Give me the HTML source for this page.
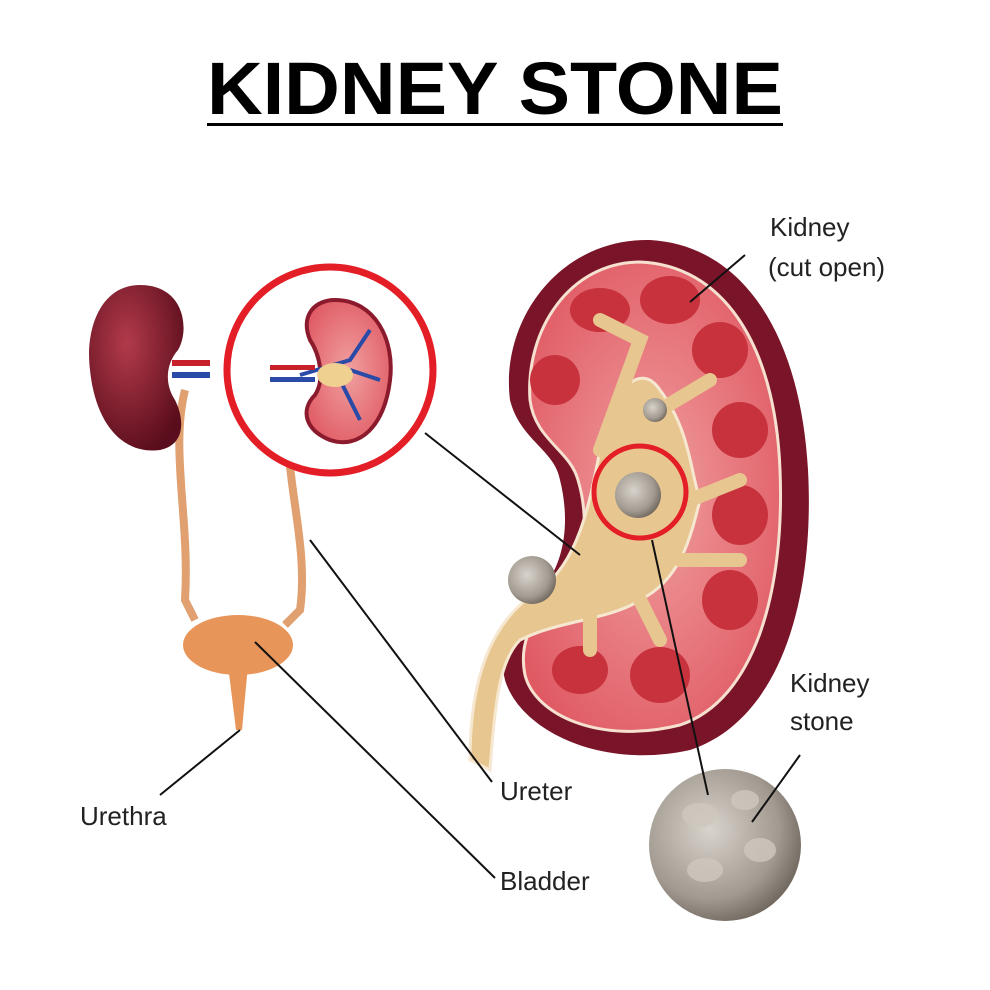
<!DOCTYPE html>
<html><head><meta charset="utf-8"><style>
html,body{margin:0;padding:0;background:#fff;}
svg{display:block;}
text{font-family:"Liberation Sans",sans-serif;}
</style></head><body>
<svg width="990" height="990" viewBox="0 0 990 990" xmlns="http://www.w3.org/2000/svg">
<defs>
<radialGradient id="kd" cx="40%" cy="35%" r="70%"><stop offset="0" stop-color="#b23a4a"/><stop offset="1" stop-color="#5a0d1c"/></radialGradient>
<radialGradient id="st" cx="40%" cy="40%" r="65%"><stop offset="0" stop-color="#d8d3cc"/><stop offset="0.7" stop-color="#a29a90"/><stop offset="1" stop-color="#6e655c"/></radialGradient>
<radialGradient id="cortex" cx="50%" cy="50%" r="60%"><stop offset="0" stop-color="#f0a0a0"/><stop offset="1" stop-color="#e05a64"/></radialGradient>
</defs>
<rect width="990" height="990" fill="#fff"/>
<text x="207" y="114" textLength="576" lengthAdjust="spacingAndGlyphs" font-size="74" font-weight="bold" fill="#000">KIDNEY STONE</text>
<rect x="207" y="123" width="576" height="3" fill="#000"/>

<path d="M185 390 C170 450 190 520 185 600 L195 620" stroke="#e0a070" stroke-width="8" fill="none"/>
<path d="M290 400 C280 470 310 540 300 610 L285 625" stroke="#e0a070" stroke-width="8" fill="none"/>
<path d="M140 285 C100 285 85 330 90 370 C95 420 120 455 160 450 C185 445 185 420 175 400 C165 385 165 365 178 350 C190 330 185 285 140 285Z" fill="url(#kd)"/>
<rect x="172" y="360" width="38" height="6" fill="#c8202a"/><rect x="172" y="372" width="38" height="6" fill="#2a4aa8"/>
<ellipse cx="238" cy="645" rx="55" ry="30" fill="#e8955a"/>
<path d="M228 665 L248 665 L242 730 L236 730Z" fill="#e8955a"/>
<circle cx="330" cy="370" r="103" fill="#fff" stroke="#e41e26" stroke-width="7"/>
<path d="M335 300 C375 300 395 340 390 380 C385 425 360 450 330 440 C305 430 300 410 315 395 C325 380 320 355 310 340 C300 315 315 300 335 300Z" fill="url(#cortex)" stroke="#8a1a2c" stroke-width="4"/>
<path d="M300 375 L350 360 L370 330 M350 370 L380 380 M340 380 L360 420" stroke="#2a4aa8" stroke-width="4" fill="none"/>
<ellipse cx="335" cy="375" rx="18" ry="12" fill="#f0d090"/>
<rect x="270" y="365" width="45" height="5" fill="#c8202a"/><rect x="270" y="377" width="45" height="5" fill="#2a4aa8"/>

<path d="M650 240 C740 245 800 330 808 470 C815 600 780 720 690 750 C600 770 520 730 505 680 C495 640 515 600 545 585 C565 560 570 520 560 480 C555 450 520 440 510 400 C500 320 560 238 650 240Z" fill="#7a1428"/>
<path d="M640 262 C720 265 775 340 780 470 C785 590 755 700 680 725 C600 745 535 715 525 675 C518 640 535 612 560 600 C585 570 590 520 578 480 C570 450 535 440 530 400 C525 330 570 262 640 262Z" fill="url(#cortex)" stroke="#f6e0d0" stroke-width="3"/>
<g fill="#c8323c">
<ellipse cx="600" cy="310" rx="30" ry="22"/><ellipse cx="670" cy="300" rx="30" ry="24"/>
<ellipse cx="720" cy="350" rx="28" ry="28"/><ellipse cx="740" cy="430" rx="28" ry="28"/>
<ellipse cx="740" cy="515" rx="28" ry="30"/><ellipse cx="730" cy="600" rx="28" ry="30"/>
<ellipse cx="660" cy="675" rx="30" ry="28"/><ellipse cx="580" cy="670" rx="28" ry="24"/>
<ellipse cx="555" cy="380" rx="25" ry="25"/>
</g>
<path d="M470 760 C470 680 490 620 540 590 C580 560 590 500 600 450 C610 390 640 360 660 390 C690 430 690 470 700 500 C690 540 680 580 640 600 C610 620 560 620 520 640 C500 660 495 700 490 770Z" fill="#e8c690" stroke="#f6e8d0" stroke-width="3"/>
<path d="M600 450 L640 340 L600 320 M660 410 L710 380 M690 500 L740 480 M680 560 L740 560 M640 600 L660 640 M590 610 L590 650" stroke="#e8c690" stroke-width="14" fill="none" stroke-linecap="round"/>
<circle cx="532" cy="580" r="24" fill="url(#st)"/>
<circle cx="655" cy="410" r="12" fill="url(#st)"/>
<circle cx="638" cy="495" r="23" fill="url(#st)"/>
<circle cx="640" cy="492" r="46" fill="none" stroke="#e41e26" stroke-width="5"/>

<circle cx="725" cy="845" r="76" fill="url(#st)"/>
<g fill="#cfc8be" opacity="0.8"><ellipse cx="700" cy="815" rx="18" ry="12"/><ellipse cx="745" cy="800" rx="14" ry="10"/><ellipse cx="760" cy="850" rx="16" ry="12"/><ellipse cx="705" cy="870" rx="18" ry="12"/></g>

<g stroke="#111" stroke-width="2" fill="none">
<line x1="745" y1="255" x2="690" y2="302"/>
<line x1="425" y1="433" x2="580" y2="555"/>
<line x1="652" y1="540" x2="708" y2="795"/>
<line x1="800" y1="755" x2="752" y2="822"/>
<line x1="310" y1="540" x2="492" y2="782"/>
<line x1="255" y1="642" x2="495" y2="878"/>
<line x1="160" y1="795" x2="240" y2="730"/>
</g>

<g font-size="26" fill="#222">
<text x="770" y="236">Kidney</text>
<text x="768" y="276">(cut open)</text>
<text x="790" y="692">Kidney</text>
<text x="790" y="730">stone</text>
<text x="500" y="800">Ureter</text>
<text x="80" y="825">Urethra</text>
<text x="500" y="890">Bladder</text>
</g>
</svg>
</body></html>
